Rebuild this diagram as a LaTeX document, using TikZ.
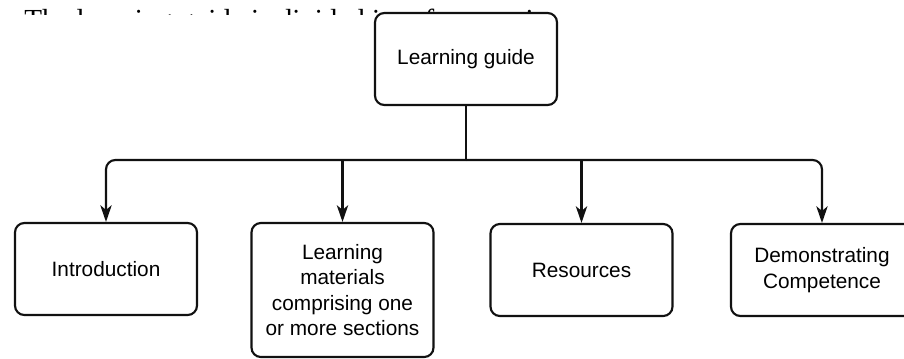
\documentclass[tikz,border=0pt]{standalone}
\usepackage{fontspec}
\setmainfont{Liberation Serif}
\setsansfont{Liberation Sans}
\usetikzlibrary{arrows.meta,positioning}
\definecolor{ink}{HTML}{111111}
\tikzset{
  guidebox/.style={draw=ink,line width=1.6pt,rounded corners=7pt,fill=white,
    minimum width=136.5pt,minimum height=69pt,align=center,inner sep=2pt},
  flow/.style={draw=ink,line width=1.6pt,rounded corners=7pt,
    -{Stealth[length=12.5pt,width=8.5pt,inset=3.5pt]}}
}

\begin{document}
\begin{tikzpicture}[x=0.75pt,y=-0.75pt,
    font=\sffamily\fontsize{15.6}{19}\selectfont]
  \fill[white] (0,0) rectangle (904,358);
  \clip (0,0) rectangle (904,358);
  % running text above the chart, mostly hidden
  \begin{scope}
    \clip (0,0) rectangle (904,14);
    \node[anchor=base west,inner sep=0pt,
          font=\rmfamily\fontsize{21.8}{26}\selectfont] (lead) at (24,29)
      {The learning guide is divided into four sections};
  \end{scope}
  \node[guidebox] (guide) at (466,59) {Learning guide};
  \node[guidebox] (intro) at (106,269) {Introduction};
  \node[guidebox,minimum height=100.5pt] (materials) at (342.5,290)
    {Learning\\materials\\comprising one\\or more sections};
  \node[guidebox] (resources) at (581.5,270) {Resources};
  \node[guidebox] (competence) at (822,270) {Demonstrating\\Competence};
  \coordinate (bus) at (guide.south |- 0,160);
  \draw[draw=ink,line width=1.6pt] (guide.south) -- (bus);
  \draw[flow] (bus) -| (intro.north);
  \draw[flow] (bus) -| (competence.north);
  \draw[flow] (materials.north |- bus) -- (materials.north);
  \draw[flow] (resources.north |- bus) -- (resources.north);
\end{tikzpicture}
\end{document}
